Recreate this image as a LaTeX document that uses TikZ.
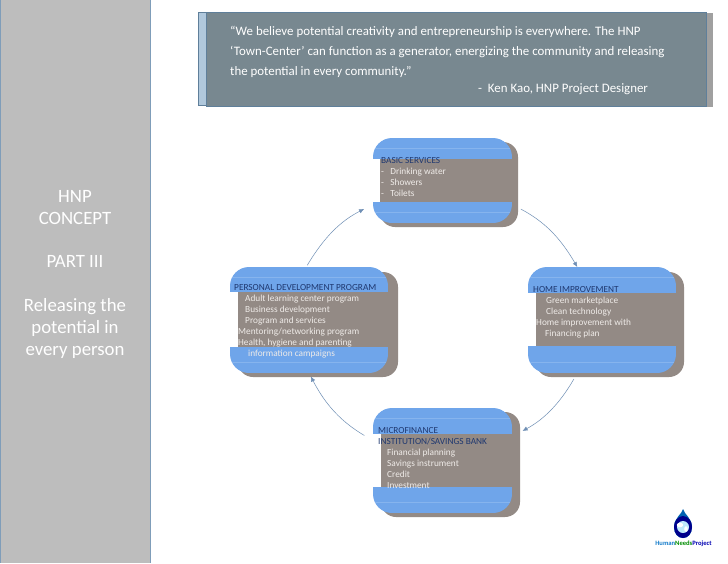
\documentclass[tikz,border=0pt]{standalone}
\usepackage{fontspec}
\setmainfont{Carlito}
\usetikzlibrary{arrows.meta}
\definecolor{panelgrey}{HTML}{BDBDBD}
\definecolor{paneledge}{HTML}{7F9DB9}
\definecolor{quotefill}{HTML}{788890}
\definecolor{quoteedge}{HTML}{5F7F9A}
\definecolor{quoteleft}{HTML}{B0C8DC}
\definecolor{quoteshadow}{HTML}{A0A0A0}
\definecolor{brownbox}{HTML}{938A85}
\definecolor{blueband}{HTML}{6FA5EA}
\definecolor{bandline}{HTML}{86B4EE}
\definecolor{headnavy}{HTML}{1F3870}
\definecolor{bodytext}{HTML}{EFEBE8}
\definecolor{arrowblue}{HTML}{6F8FB5}
\tikzset{
  x=1pt,y=-1pt,
  paneltext/.style={text=white,font=\fontsize{18.8}{22}\selectfont,align=center,inner sep=0pt},
  quotetext/.style={text=white,font=\fontsize{12.9}{19.8}\selectfont,align=left,inner sep=0pt,anchor=north west},
  itemtext/.style={text=bodytext,font=\fontsize{9.3}{11}\selectfont,align=left,inner sep=0pt,anchor=north west},
  conn/.style={draw=arrowblue,line width=0.5pt,-{Latex[length=5pt,width=4.5pt]}},
}
\newcommand{\hd}[1]{\textcolor{headnavy}{#1}}
% \flowbox{name}{left}{top}{right}{bottom}{band1 end}{band2 start}
\newcommand{\flowbox}[7]{%
  \begin{scope}
    \clip[rounded corners=19pt] (#2,#3) rectangle (#4,#5);
    \fill[blueband] (#2,#3) rectangle (#4,#6);
    \fill[blueband] (#2,#7) rectangle (#4,#5);
    \draw[bandline,line width=0.4pt] (#2,#3+10) -- (#4,#3+10);
    \draw[bandline,line width=0.4pt] (#2,#5-11) -- (#4,#5-11);
  \end{scope}
  \node[inner sep=0pt,outer sep=0pt,minimum width=#4pt-#2pt,minimum height=#5pt-#3pt]
     (#1) at ({(#2+#4)/2},{(#3+#5)/2}) {};}
\begin{document}
\begin{tikzpicture}
\useasboundingbox (0,0) rectangle (728,563);
\fill[white] (0,0) rectangle (728,563);
% side panel
\fill[panelgrey] (0,0) rectangle (150,563);
\draw[paneledge,line width=0.9pt] (150.5,0) -- (150.5,563);
\draw[paneledge,line width=0.6pt] (0.3,0) -- (0.3,563);
\node[paneltext] (paneltitle) at (75,207.5) {HNP\\CONCEPT};
\node[paneltext] (panelpart) at (75,261) {PART III};
\node[paneltext] (panelsub) at (75,328) {Releasing the\\potential in\\every person};
% quote box
\fill[quoteshadow] (208,13) rectangle (713,107);
\fill[quoteleft] (198,12) rectangle (220,105);
\draw[quoteedge,line width=0.6pt] (198,12) rectangle (220,105);
\fill[quotefill] (206.5,12) rectangle (706,106);
\draw[quoteedge,line width=0.7pt] (206.5,12) rectangle (706,106);
\node[quotetext] (quote) at (230,26) {“We believe potential creativity and entrepreneurship is everywhere. The HNP\\‘Town-Center’ can function as a generator, energizing the community and releasing\\the potential in every community.”};
\node[quotetext] (author) at (478,83) {-\ \ Ken Kao, HNP Project Designer};
% brown shadows
\fill[brownbox,rounded corners=15pt] (380,142) rectangle (518,227);
\fill[brownbox,rounded corners=15pt] (238,272) rectangle (398,377);
\fill[brownbox,rounded corners=15pt] (536,272) rectangle (684,377);
\fill[brownbox,rounded corners=15pt] (381,412) rectangle (520,517);
% blue bands
\flowbox{basic}{373}{138}{512}{223}{159}{202}
\flowbox{personal}{230}{267}{388}{373}{292}{347}
\flowbox{home}{528}{267}{676}{373}{293}{346}
\flowbox{micro}{373}{408}{512}{513}{434}{487}
% texts
\node[itemtext] (basictext) at (381,157) {\hd{BASIC SERVICES}\\-\ \ \ Drinking water\\-\ \ \ Showers\\-\ \ \ Toilets};
\node[itemtext] (personaltext) at (234,284) {\hd{PERSONAL DEVELOPMENT PROGRAM}\\\hspace*{11pt}Adult learning center program\\\hspace*{11pt}Business development\\\hspace*{11pt}Program and services\\\hspace*{4pt}Mentoring/networking program\\\hspace*{4pt}Health, hygiene and parenting\\\hspace*{14pt}information campaigns};
\node[itemtext] (hometext) at (533,286) {\hd{HOME IMPROVEMENT}\\\hspace*{13pt}Green marketplace\\\hspace*{13pt}Clean technology\\\hspace*{3pt}Home improvement with\\\hspace*{12pt}Financing plan};
\node[itemtext] (microtext) at (378,427) {\hd{MICROFINANCE}\\\hd{INSTITUTION/SAVINGS BANK}\\\hspace*{9pt}Financial planning\\\hspace*{9pt}Savings instrument\\\hspace*{9pt}Credit\\\hspace*{9pt}Investment};
% connectors
\draw[conn,shorten <=10pt] (basic.-19) to[bend left=16] (home.115);
\draw[conn,shorten <=7pt,shorten >=12pt] (home.245) to[bend left=16] (micro.19);
\draw[conn,shorten <=10pt,shorten >=4pt] (micro.164) to[bend left=16] (personal.south);
\draw[conn,shorten <=2pt,shorten >=10pt] (personal.93) to[bend left=16] (basic.199);
% logo
\fill[blue!45!cyan!70!black] (683,509) .. controls (684,514) and (692,518) .. (692,527) .. controls (692,534) and (688,538) .. (683,538) .. controls (678,538) and (674,534) .. (674,527) .. controls (674,518) and (682,514) .. (683,509) -- cycle;
\fill[blue!55!black] (683,527) ellipse [x radius=9,y radius=11];
\fill[cyan!25] (683,527) circle [radius=6];
\fill[white] (680,525) ellipse [x radius=3.2,y radius=2.3];
\fill[white] (686,529) ellipse [x radius=1.8,y radius=2.8];
\node[inner sep=0pt,font=\bfseries\fontsize{6.6}{7}\selectfont] (logotext) at (683.5,544) {\textcolor{cyan!60!blue}{Human}\textcolor{green!55!black}{Needs}\textcolor{blue!70!black}{Project}};
\end{tikzpicture}
\end{document}
